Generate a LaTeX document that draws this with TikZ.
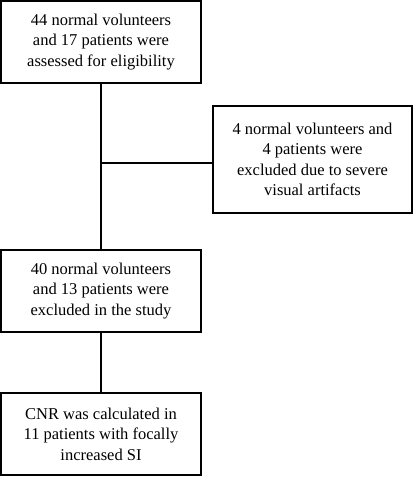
\documentclass[tikz,border=0pt]{standalone}
\usepackage{fontspec}
\setmainfont{Liberation Serif}
\begin{document}
\begin{tikzpicture}[x=1pt,y=-1pt,
  flowbox/.style={draw,line width=1.3pt,align=center,font=\fontsize{16.5}{20.5}\selectfont,inner sep=0pt},
  link/.style={line width=1.3pt}]
\useasboundingbox (0,0) rectangle (414,477);
\node[flowbox,minimum width=200pt,minimum height=82pt] (b1) at (101,42) {44 normal volunteers\\and 17 patients were\\assessed for eligibility};
\node[flowbox,minimum width=199pt,minimum height=107pt] (b2) at (312.5,159.5) {4 normal volunteers and\\4 patients were\\excluded due to severe\\visual artifacts};
\node[flowbox,minimum width=200pt,minimum height=82pt] (b3) at (101,291) {40 normal volunteers\\and 13 patients were\\excluded in the study};
\node[flowbox,minimum width=200pt,minimum height=82pt] (b4) at (101,434) {CNR was calculated in\\11 patients with focally\\increased SI};
\coordinate (j) at (101,163);
\draw[link] (b1.south) -- (b3.north);
\draw[link] (j) -- (j -| b2.west);
\draw[link] (b3.south) -- (b4.north);
\end{tikzpicture}
\end{document}
